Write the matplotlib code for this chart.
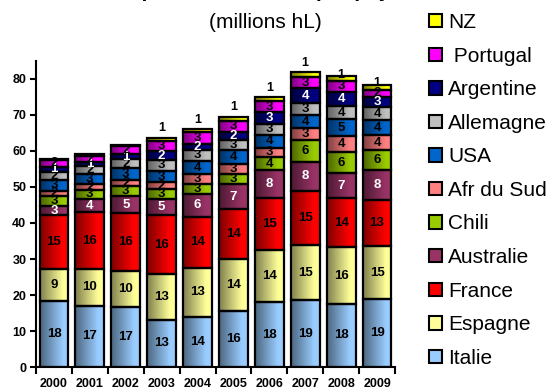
import numpy as np
import matplotlib
matplotlib.use("Agg")
import matplotlib.pyplot as plt
import matplotlib.colors as mcolors
from matplotlib.patches import Patch

plt.rcParams['font.family'] = 'Liberation Sans'

# wine exports, millions hL
years = ['2000', '2001', '2002', '2003', '2004', '2005', '2006', '2007', '2008', '2009']
italie    = [18.3, 17.0, 16.6, 13.1, 14.0, 15.6, 18.0, 18.6, 17.6, 18.8]
espagne   = [8.9, 10.2, 10.2, 12.6, 13.4, 14.3, 14.4, 15.2, 15.6, 14.8]
france    = [14.9, 15.8, 16.0, 16.4, 14.4, 14.0, 14.6, 15.2, 13.7, 12.8]
australie = [2.7, 3.6, 4.6, 4.6, 6.3, 6.8, 7.7, 8.0, 6.9, 8.3]
chili     = [2.6, 2.7, 2.9, 2.7, 2.8, 3.0, 3.6, 6.1, 6.0, 5.6]
afr_sud   = [1.6, 1.6, 1.6, 1.9, 2.6, 2.8, 2.6, 3.2, 4.4, 4.1]
usa       = [3.0, 2.6, 3.4, 3.2, 3.8, 3.9, 3.6, 3.7, 4.6, 4.2]
allemagne = [2.3, 2.3, 2.4, 3.0, 3.0, 2.7, 3.0, 3.4, 3.6, 3.6]
argentine = [1.3, 1.2, 1.4, 2.4, 1.7, 2.3, 3.3, 4.0, 4.1, 2.9]
portugal  = [1.9, 1.7, 2.2, 3.0, 3.2, 3.0, 3.1, 3.2, 3.0, 1.8]
nz        = [0.4, 0.4, 0.4, 0.8, 0.8, 1.1, 1.1, 1.3, 1.3, 1.4]

countries = ['Italie', 'Espagne', 'France', 'Australie', 'Chili', 'Afr du Sud',
             'USA', 'Allemagne', 'Argentine', ' Portugal', 'NZ']
series = [italie, espagne, france, australie, chili, afr_sud,
          usa, allemagne, argentine, portugal, nz]
colors = ['#99CCFF', '#FFFF99', '#FF0000', '#993366', '#99CC00', '#FF8080',
          '#0066CC', '#C0C0C0', '#000080', '#FF00FF', '#FFFF00']
label_colors = ['black', 'black', 'black', 'white', 'black', 'black',
                'black', 'black', 'white', 'black', 'black']
# NZ labels sit above the stack
nz_lift = [0, 0, 0, 2.6, 2.6, 2.6, 2.6, 2.6, 0.2, 0.6]


def shaded(base, n=64):
    # dark on the left, full colour towards the right
    rgb = np.array(mcolors.to_rgb(base))
    t = np.linspace(0, 1, n)
    k = 0.5 + 0.5 * np.clip(t / 0.8, 0, 1)
    return (k[:, None] * rgb[None, :])[None, :, :]


fig = plt.figure(figsize=(5.51, 3.92), dpi=100)
ax = fig.add_axes([36/551, 1 - 367/392, (395 - 36)/551, (367 - 61)/392])

x = np.arange(len(years))
w = 0.8
bottom = np.zeros(len(years))
for vals, col, lcol, name in zip(series, colors, label_colors, countries):
    vals = np.array(vals)
    strip = shaded(col)
    for i in range(len(years)):
        ax.imshow(strip, extent=(x[i] - w/2, x[i] + w/2, bottom[i], bottom[i] + vals[i]),
                  aspect='auto', interpolation='bilinear', zorder=2)
    ax.bar(x, vals, bottom=bottom, width=w, facecolor='none',
           edgecolor='black', linewidth=1.6, zorder=3)
    for i in range(len(years)):
        txt = '%.0f' % vals[i]
        if txt == '0':
            continue
        if name == 'NZ':
            ax.text(x[i], bottom[i] + vals[i] + nz_lift[i], txt, ha='center', va='center',
                    fontsize=9, fontweight='bold', color=lcol, zorder=4)
        else:
            ax.text(x[i], bottom[i] + vals[i]/2, txt, ha='center', va='center',
                    fontsize=9.5, fontweight='bold', color=lcol, zorder=4)
    bottom += vals

ax.set_xlim(-0.5, len(years) - 0.5)
ax.set_ylim(0, 85)
ax.set_yticks(np.arange(0, 81, 10))
ax.set_xticks(x)
ax.set_xticklabels(years)
ax.set_xticks(np.arange(-0.5, len(years), 1), minor=True)
ax.tick_params(axis='x', which='major', length=0, pad=8)
ax.tick_params(axis='x', which='minor', length=5, width=1.5, direction='out')
ax.tick_params(axis='y', length=4, width=1.5, direction='out', pad=3)
for lab in ax.get_xticklabels() + ax.get_yticklabels():
    lab.set_fontweight('bold')
    lab.set_fontsize(9)
for side in ['top', 'right']:
    ax.spines[side].set_visible(False)
for side in ['left', 'bottom']:
    ax.spines[side].set_linewidth(1.5)

fig.text(0.47, 1.0 + 3/392, 'Exportations de vin par pays', ha='center', va='baseline',
         fontsize=15, fontweight='bold')
fig.text(265/551, 1 - 22/392, '(millions hL)', ha='center', va='center', fontsize=15)

handles = [Patch(facecolor=c, edgecolor='black', linewidth=1.5, label=n)
           for c, n in zip(colors, countries)][::-1]
fig.legend(handles=handles, loc='upper left', bbox_to_anchor=(429/551, 1 - 13/392),
           frameon=False, fontsize=15, handlelength=0.62, handleheight=0.62,
           handletextpad=0.3, labelspacing=0.7, borderpad=0, borderaxespad=0)

fig.savefig('out.png', dpi=100)
